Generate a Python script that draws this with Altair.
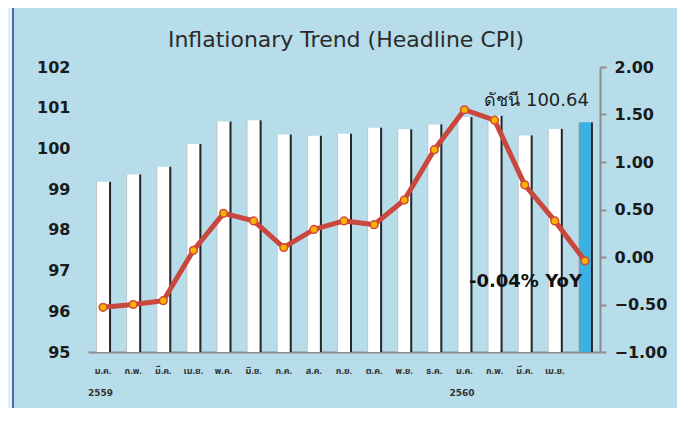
import altair as alt
import pandas as pd

# ---- data ----
months = ["ม.ค.", "ก.พ.", "มี.ค.", "เม.ย.", "พ.ค.", "มิ.ย.", "ก.ค.", "ส.ค.", "ก.ย.",
          "ต.ค.", "พ.ย.", "ธ.ค.", "ม.ค.", "ก.พ.", "มี.ค.", "เม.ย.", ""]
cpi = [99.18, 99.36, 99.55, 100.11, 100.66, 100.69, 100.34, 100.31, 100.36,
       100.51, 100.47, 100.59, 100.77, 100.80, 100.32, 100.48, 100.64]
yoy = [-0.53, -0.50, -0.46, 0.07, 0.46, 0.38, 0.10, 0.29, 0.38,
       0.34, 0.60, 1.13, 1.55, 1.44, 0.76, 0.38, -0.04]
year_labels = ["2559", "2560"]
year_pos = [0, 12]
left_ticks = [95, 96, 97, 98, 99, 100, 101, 102]
right_ticks = [-1.0, -0.5, 0.0, 0.5, 1.0, 1.5, 2.0]
title_text = "Inflationary Trend (Headline CPI)"
cpi_note = "ดัชนี 100.64"
yoy_note = "-0.04% YoY"

keys = [f"{m}|{i}" for i, m in enumerate(months)]
kind = ["past"] * (len(keys) - 1) + ["latest"]
df = pd.DataFrame({"key": keys, "cpi": cpi, "yoy": yoy, "kind": kind})
df_last = df.tail(1)
df_year = pd.DataFrame({"key": [keys[i] for i in year_pos], "year": year_labels})

W, H = 512, 285
PANEL = "#b6dde9"
THAI = "Noto Sans Thai, Noto Sans, DejaVu Sans, sans-serif"
NUM = "DejaVu Sans"

x_enc = alt.X(
    "key:N", sort=keys,
    scale=alt.Scale(paddingInner=0, paddingOuter=0),
    axis=alt.Axis(
        title=None, labelExpr="split(datum.value, '|')[0]", labelAngle=0,
        labelFont=THAI, labelFontSize=9, labelFontWeight="bold", labelColor="#333333",
        labelPadding=14, ticks=False, domainColor="#8c8c8c", domainWidth=2,
        labelOverlap=False,
    ),
)

cpi_scale = alt.Scale(domain=[95, 102], zero=False, nice=False)
y_left = alt.Y(
    "cpi:Q", scale=cpi_scale,
    axis=alt.Axis(
        title=None, values=left_ticks, format="d", domain=False, ticks=False, grid=False,
        labelFont=NUM, labelFontSize=16, labelFontWeight="bold", labelColor="#1a1a1a",
        labelPadding=18,
    ),
)
yoy_scale = alt.Scale(domain=[-1, 2], zero=False, nice=False)
y_right = alt.Y(
    "yoy:Q", scale=yoy_scale,
    axis=alt.Axis(
        title=None, orient="right", values=right_ticks, format=".2f", grid=False,
        domainColor="#8c8c8c", domainWidth=2, tickColor="#8c8c8c", tickWidth=2, tickSize=6,
        labelFont=NUM, labelFontSize=16, labelFontWeight="bold", labelColor="#1a1a1a",
        labelPadding=8,
    ),
)

base = alt.Chart(df)

edge = base.mark_bar(width=1, xOffset=-6.5, color="#c4c4c4").encode(
    x=x_enc, y=y_left, y2=alt.datum(95))
body = base.mark_bar(width=12).encode(
    x=x_enc, y=y_left, y2=alt.datum(95),
    color=alt.condition(alt.datum.kind == "latest", alt.value("#3cb1e3"), alt.value("#ffffff")),
)
shadow = base.mark_bar(width=2, xOffset=7, color="#262626").encode(
    x=x_enc, y=y_left, y2=alt.datum(95))
note_cpi = alt.Chart(df_last).mark_text(
    text=cpi_note, align="right", baseline="middle", dx=4, dy=-21,
    font=NUM, fontSize=18, fontWeight="normal", color="#222222",
).encode(x=x_enc, y=y_left)

bars = alt.layer(edge, body, shadow, note_cpi)

line = base.mark_line(color="#c9473d", strokeWidth=5).encode(x=x_enc, y=y_right)
pts = base.mark_point(filled=True, size=60, color="#f6b400", stroke="#d2473a",
                      strokeWidth=1.5, opacity=1).encode(x=x_enc, y=y_right)
note_yoy = alt.Chart(df_last).mark_text(
    text=yoy_note, align="right", baseline="middle", dx=-3, dy=21,
    font=NUM, fontSize=18, fontWeight="bold", color="#111111",
).encode(x=x_enc, y=y_right)

lines = alt.layer(line, pts, note_yoy)

years = alt.Chart(df_year).mark_text(
    align="left", baseline="middle", dx=-15, font=NUM, fontSize=9,
    fontWeight="bold", color="#333333",
).encode(x=x_enc, y=alt.value(H + 41), text="year:N")

one = pd.DataFrame({"d": [0]})
frame = alt.Chart(one).mark_rect(
    fill="#dff1f8", stroke="#2f3f97", strokeWidth=1.5,
).encode(x=alt.value(-90), x2=alt.value(-75), y=alt.value(-70), y2=alt.value(H + 70))
title = alt.Chart(one).mark_text(
    text=title_text, align="center", baseline="middle",
    font="DejaVu Sans", fontSize=22, color="#2b2b2b",
).encode(x=alt.value(W / 2 + 2), y=alt.value(-27))

chart = alt.layer(frame, title, bars, lines, years).resolve_scale(y="independent").properties(
    width=W, height=H,
    autosize=alt.AutoSizeParams(type="none"),
    padding={"left": 80, "top": 59, "right": 77, "bottom": 56},
    background=PANEL,
).configure_view(stroke=None)

chart.save("out.html", embed_options={"renderer": "svg", "actions": False})
